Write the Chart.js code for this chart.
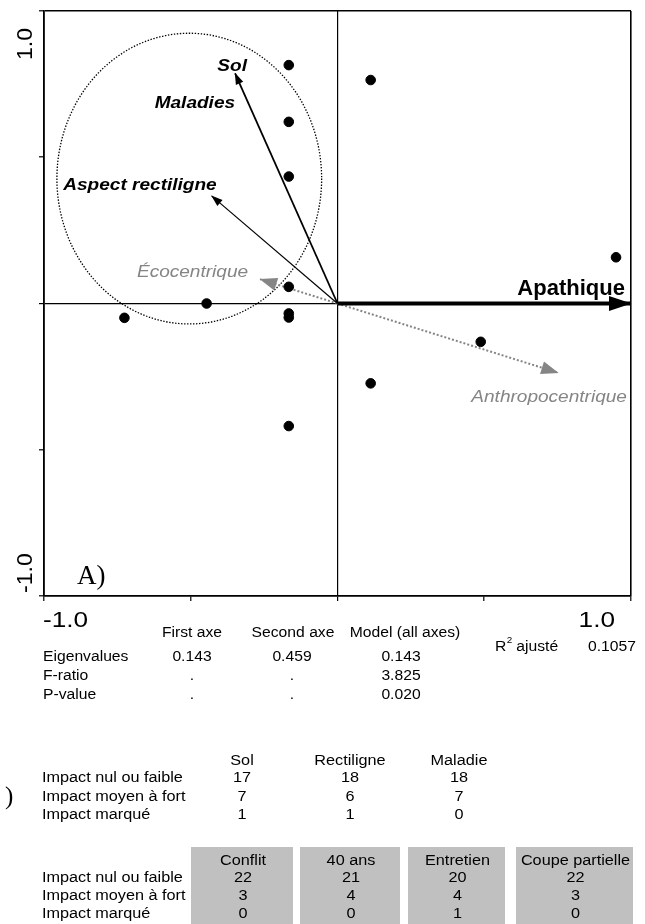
<!DOCTYPE html>
<html>
<head>
<meta charset="utf-8">
<script src="https://cdn.jsdelivr.net/npm/chart.js@4.4.1/dist/chart.umd.min.js"></script>
<style>
  html, body { margin: 0; padding: 0; background: #fff; }
  canvas { display: block; }
</style>
</head>
<body>
<canvas id="c" width="645" height="924"></canvas>
<script>
// Site scores (black dots)
const pointX = [-0.166, -0.166, -0.166, -0.166, -0.446, -0.726, -0.166, -0.166, -0.166, 0.113, 0.949, 0.488, 0.113];
const pointY = [0.815, 0.621, 0.434, 0.057, 0.000, -0.049, -0.034, -0.048, -0.419, 0.764, 0.158, -0.131, -0.273];

// Explanatory variable vectors (from the origin)
const vectorNames = ['Sol', 'Aspect rectiligne', 'Écocentrique', 'Apathique', 'Anthropocentrique'];
const vectorX = [-0.349, -0.429, -0.264, 1.000, 0.752];
const vectorY = [0.787, 0.368, 0.083, 0.000, -0.237];

// Variable names written on the plot
const labelNames = ['Sol', 'Maladies', 'Aspect rectiligne', 'Écocentrique', 'Apathique', 'Anthropocentrique'];
const labelX = [-0.359, -0.486, -0.673, -0.494, 0.796, 0.721];
const labelY = [0.795, 0.667, 0.388, 0.092, 0.029, -0.336];

// Dotted group envelope
const envelopeCenter = [-0.505, 0.427];
const envelopeRadius = [0.451, 0.497];

// Axes
const tickValues = [-1, -0.5, 0, 0.5, 1];
const axisTickLabels = ['-1.0', '1.0'];

// Statistics table
const statColumns = ['First axe', 'Second axe', 'Model (all axes)'];
const statRows = ['Eigenvalues', 'F-ratio', 'P-value'];
const firstAxe = ['0.143', '.', '.'];
const secondAxe = ['0.459', '.', '.'];
const modelAllAxes = ['0.143', '3.825', '0.020'];
const r2Adjusted = '0.1057';

// Impact tables
const impactLevels = ['Impact nul ou faible', 'Impact moyen à fort', 'Impact marqué'];
const table1Columns = ['Sol', 'Rectiligne', 'Maladie'];
const impactSol = [17, 7, 1];
const impactRectiligne = [18, 6, 1];
const impactMaladie = [18, 7, 0];
const table2Columns = ['Conflit', '40 ans', 'Entretien', 'Coupe partielle'];
const impactConflit = [22, 3, 0];
const impact40ans = [21, 4, 0];
const impactEntretien = [20, 4, 1];
const impactCoupe = [22, 3, 0];

// ---- styling ----
const SANS = '"Liberation Sans", Arial, Helvetica, sans-serif';
const SERIF = '"Liberation Serif", "Times New Roman", serif';
const GREY = '#858585';
const WIDE = 1.19;   // horizontal stretch of the lettering
const TAB = 1.16;

const vectorStyles = [
  { color: '#000', width: 1.8, dash: [], head: 11, half: 4 },
  { color: '#000', width: 1.2, dash: [], head: 11, half: 4 },
  { color: GREY, width: 2, dash: [2, 2], head: 17, half: 6.5 },
  { color: '#000', width: 4, dash: [], head: 22, half: 7.5 },
  { color: GREY, width: 2, dash: [2, 2], head: 17, half: 6.5 }
];
const labelStyles = [
  { font: 'italic bold 16px ' + SANS, color: '#000', sx: WIDE },
  { font: 'italic bold 16px ' + SANS, color: '#000', sx: WIDE },
  { font: 'italic bold 16px ' + SANS, color: '#000', sx: WIDE },
  { font: 'italic 16px ' + SANS, color: GREY, sx: WIDE },
  { font: 'bold 22px ' + SANS, color: '#000', sx: 1 },
  { font: 'italic 16px ' + SANS, color: GREY, sx: WIDE }
];

const datasets = [{
  type: 'scatter',
  data: pointX.map((x, i) => ({ x, y: pointY[i] })),
  backgroundColor: '#000',
  borderColor: '#000',
  pointRadius: 4.8,
  pointHoverRadius: 4.8,
  order: 0
}];
vectorNames.forEach((name, i) => {
  const st = vectorStyles[i];
  datasets.push({
    type: 'line',
    label: name,
    isVector: true,
    data: [{ x: 0, y: 0 }, { x: vectorX[i], y: vectorY[i] }],
    borderColor: st.color,
    borderWidth: st.width,
    borderDash: st.dash,
    pointRadius: 0,
    fill: false,
    tension: 0,
    clip: 10,
    order: 1
  });
});

// text with a horizontal stretch factor
function text(ctx, str, x, y, font, opts) {
  const o = Object.assign({ align: 'left', baseline: 'middle', color: '#000', sx: 1, rot: 0 }, opts || {});
  ctx.save();
  ctx.translate(x, y);
  if (o.rot) ctx.rotate(o.rot);
  ctx.scale(o.sx, 1);
  ctx.font = font;
  ctx.fillStyle = o.color;
  ctx.textAlign = o.align;
  ctx.textBaseline = o.baseline;
  ctx.fillText(str, 0, 0);
  const w = ctx.measureText(str).width * o.sx;
  ctx.restore();
  return w;
}

const decorations = {
  id: 'decorations',
  beforeDatasetsDraw(chart) {
    const { ctx, scales: { x, y } } = chart;
    // dotted envelope
    const cx = x.getPixelForValue(envelopeCenter[0]);
    const cy = y.getPixelForValue(envelopeCenter[1]);
    const rx = x.getPixelForValue(envelopeCenter[0] + envelopeRadius[0]) - cx;
    const ry = cy - y.getPixelForValue(envelopeCenter[1] + envelopeRadius[1]);
    ctx.save();
    ctx.strokeStyle = '#000';
    ctx.lineWidth = 1.3;
    ctx.setLineDash([1.4, 1.6]);
    ctx.beginPath();
    ctx.ellipse(cx, cy, rx, ry, 0, 0, Math.PI * 2);
    ctx.stroke();
    ctx.restore();
  },
  afterDatasetsDraw(chart) {
    const { ctx } = chart;
    // arrow heads
    chart.data.datasets.forEach((ds, di) => {
      if (!ds.isVector) return;
      const st = vectorStyles[vectorNames.indexOf(ds.label)];
      const meta = chart.getDatasetMeta(di);
      const p0 = meta.data[0], p1 = meta.data[1];
      const ang = Math.atan2(p1.y - p0.y, p1.x - p0.x);
      ctx.save();
      ctx.translate(p1.x, p1.y);
      ctx.rotate(ang);
      ctx.fillStyle = st.color;
      ctx.beginPath();
      ctx.moveTo(0.5, 0);
      ctx.lineTo(-st.head, -st.half);
      ctx.lineTo(-st.head, st.half);
      ctx.closePath();
      ctx.fill();
      ctx.restore();
    });
  },
  afterDraw(chart) {
    const { ctx, scales: { x, y } } = chart;

    // variable names
    labelNames.forEach((t, i) => {
      const s = labelStyles[i];
      text(ctx, t, x.getPixelForValue(labelX[i]), y.getPixelForValue(labelY[i]), s.font,
        { align: 'center', baseline: 'alphabetic', color: s.color, sx: s.sx });
    });

    // axis end labels
    const axisFont = '22px ' + SANS;
    text(ctx, axisTickLabels[0], x.getPixelForValue(tickValues[0]) - 1, 621, axisFont, { sx: WIDE });
    text(ctx, axisTickLabels[1], x.getPixelForValue(tickValues[4]) - 16, 621, axisFont, { align: 'right', sx: WIDE });
    text(ctx, axisTickLabels[1], 26, y.getPixelForValue(tickValues[4]) + 49, axisFont, { rot: -Math.PI / 2, sx: 1.05 });
    text(ctx, axisTickLabels[0], 26, y.getPixelForValue(tickValues[0]) - 3, axisFont, { rot: -Math.PI / 2, sx: 1.05 });

    // panel letters
    text(ctx, 'A)', 77, 584, '27px ' + SERIF, { baseline: 'alphabetic' });
    text(ctx, ')', 5, 797, '25px ' + SERIF);

    // statistics table
    const small = '14px ' + SANS;
    const statCenters = [192, 293, 405];
    const statValueCenters = [192, 292, 401];
    const statRowY = [657, 676, 695];
    statColumns.forEach((c, i) => text(ctx, c, statCenters[i], 633.5, small, { align: 'center', sx: 1.12 }));
    statRows.forEach((r, j) => {
      text(ctx, r, 43, statRowY[j], small, { sx: 1.12 });
      text(ctx, firstAxe[j], statValueCenters[0], statRowY[j], small, { align: 'center', sx: 1.12 });
      text(ctx, secondAxe[j], statValueCenters[1], statRowY[j], small, { align: 'center', sx: 1.12 });
      text(ctx, modelAllAxes[j], statValueCenters[2], statRowY[j], small, { align: 'center', sx: 1.12 });
    });
    const rw = text(ctx, 'R', 495, 647, small, { sx: 1.12 });
    text(ctx, '2', 495 + rw + 0.5, 641, '9px ' + SANS, { sx: 1.1 });
    text(ctx, 'ajusté', 495 + rw + 10, 647, small, { sx: 1.12 });
    text(ctx, r2Adjusted, 588, 647, small, { sx: 1.12 });

    // first impact table
    const t1Centers = [242, 350, 459];
    const t1Rows = [778.5, 797, 815];
    const t1Values = [impactSol, impactRectiligne, impactMaladie];
    table1Columns.forEach((c, i) => text(ctx, c, t1Centers[i], 761.5, small, { align: 'center', sx: TAB }));
    impactLevels.forEach((lv, j) => {
      text(ctx, lv, 42, t1Rows[j], small, { sx: TAB });
      t1Values.forEach((col, i) => text(ctx, String(col[j]), t1Centers[i], t1Rows[j], small, { align: 'center', sx: TAB }));
    });

    // second impact table, shaded columns
    const boxes = [[191, 293], [300, 400], [408, 505], [516, 633]];
    const t2Rows = [878.5, 896.5, 914.5];
    const t2Values = [impactConflit, impact40ans, impactEntretien, impactCoupe];
    ctx.save();
    ctx.fillStyle = '#c0c0c0';
    boxes.forEach(b => ctx.fillRect(b[0], 847, b[1] - b[0], 924 - 847));
    ctx.restore();
    table2Columns.forEach((c, i) => text(ctx, c, (boxes[i][0] + boxes[i][1]) / 2 + 1, 861, small, { align: 'center', sx: TAB }));
    impactLevels.forEach((lv, j) => {
      text(ctx, lv, 42, t2Rows[j], small, { sx: TAB });
      t2Values.forEach((col, i) => text(ctx, String(col[j]), (boxes[i][0] + boxes[i][1]) / 2 + 1, t2Rows[j], small, { align: 'center', sx: TAB }));
    });
  }
};

const lineColor = c => (c.tick && [0, 1, -1].includes(c.tick.value)) ? '#000' : 'rgba(0,0,0,0)';
const lineWidth = c => (c.tick && c.tick.value === 0) ? 1.2 : 1.6;

new Chart(document.getElementById('c'), {
  type: 'scatter',
  data: { datasets },
  options: {
    responsive: false,
    animation: false,
    events: [],
    layout: { padding: { top: 11, right: 14, left: 0, bottom: 0 } },
    plugins: { legend: { display: false }, tooltip: { enabled: false } },
    scales: {
      x: {
        type: 'linear', min: -1, max: 1,
        afterBuildTicks: s => { s.ticks = tickValues.map(v => ({ value: v })); },
        afterFit: s => { s.height = 328; },
        ticks: { display: false },
        border: { display: true, color: '#000', width: 1.6 },
        grid: { color: lineColor, lineWidth, drawTicks: true, tickLength: 5, tickColor: '#000', tickWidth: 1.2 }
      },
      y: {
        type: 'linear', min: -1, max: 1,
        afterBuildTicks: s => { s.ticks = tickValues.map(v => ({ value: v })); },
        afterFit: s => { s.width = 44; },
        ticks: { display: false },
        border: { display: true, color: '#000', width: 1.6 },
        grid: { color: lineColor, lineWidth, drawTicks: true, tickLength: 5, tickColor: '#000', tickWidth: 1.2 }
      }
    }
  },
  plugins: [decorations]
});
</script>
</body>
</html>
